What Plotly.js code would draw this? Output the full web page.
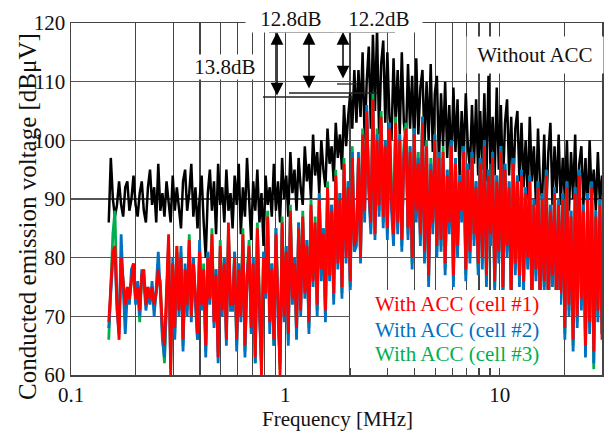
<!DOCTYPE html>
<html>
<head>
<meta charset="utf-8">
<script src="https://cdn.plot.ly/plotly-3.0.1.min.js"></script>
<style>html,body{margin:0;padding:0;background:#fff;}#chart{width:607px;height:432px;}</style>
</head>
<body>
<div id="chart"></div>
<script>
// Analyzer sweep settings (log-spaced sweep grid)
const sweepStartMHz = 0.15;
const sweepStopMHz = 30;
const sweepPoints = 240;

// Conducted emission levels [dBuV]
const withoutACC = [
  86, 97, 90, 87, 89, 93, 89, 87, 92, 93, 88, 90, 94, 89, 87, 91, 93, 88, 86, 92,
  95, 89, 92, 86, 96, 88, 91, 87, 93, 90, 86, 94, 88, 92, 89, 85, 93, 95, 88, 91,
  96, 87, 92, 85, 90, 94, 86, 80, 91, 95, 88, 93, 84, 96, 89, 92, 86, 95, 88, 91,
  85, 94, 89, 96, 84, 92, 87, 97, 90, 83, 93, 88, 95, 86, 91, 82, 94, 89, 92, 87,
  96, 88, 93, 86, 97, 90, 94, 87, 98, 91, 95, 88, 97, 92, 89, 99, 93, 96, 90, 101,
  94, 98, 91, 100, 95, 92, 102, 96, 99, 93, 103, 97, 101, 95, 106, 99, 104, 108, 102, 112,
  103, 112, 104, 115, 100, 110, 116, 102, 118, 105, 119, 101, 113, 117, 103, 115, 104, 100, 114, 103,
  112, 101, 115, 103, 100, 113, 102, 111, 99, 114, 101, 109, 112, 99, 110, 100, 113, 98, 108, 111,
  96, 108, 99, 110, 97, 106, 95, 109, 98, 107, 94, 105, 97, 108, 99, 95, 106, 96, 107, 94,
  105, 95, 108, 93, 111, 96, 104, 94, 109, 95, 106, 92, 103, 107, 94, 104, 92, 102, 105, 93,
  103, 92, 100, 90, 104, 93, 99, 89, 102, 92, 90, 101, 88, 98, 103, 89, 99, 91, 101, 89,
  97, 90, 100, 88, 98, 90, 101, 87, 96, 99, 89, 97, 87, 100, 90, 95, 88, 98, 89, 94
];
const withACCcell1 = [
  69, 75, 81, 82, 72, 66, 80, 76, 72, 75, 73, 76, 79, 73, 75, 71, 77, 78, 72, 75,
  73, 75, 72, 74, 78, 75, 68, 65, 74, 84, 60, 79, 68, 82, 71, 80, 66, 78, 72, 83,
  70, 79, 74, 67, 81, 72, 78, 65, 80, 73, 84, 69, 77, 63, 82, 71, 79, 66, 86, 72,
  72, 80, 66, 78, 70, 84, 65, 76, 82, 68, 79, 63, 85, 71, 60, 80, 74, 87, 69, 78,
  66, 84, 72, 60, 86, 70, 81, 67, 88, 73, 79, 68, 85, 71, 87, 74, 82, 69, 89, 76,
  86, 72, 90, 78, 84, 71, 92, 77, 88, 74, 94, 79, 90, 75, 96, 80, 92, 76, 97, 82,
  84, 97, 80, 101, 88, 105, 92, 86, 107, 84, 100, 89, 104, 87, 99, 85, 102, 90, 84, 103,
  86, 100, 83, 97, 102, 85, 98, 80, 101, 88, 96, 84, 103, 81, 99, 77, 95, 86, 100, 82,
  97, 83, 98, 79, 94, 86, 99, 77, 96, 82, 93, 88, 98, 78, 95, 81, 97, 84, 92, 79,
  96, 80, 99, 77, 94, 84, 97, 76, 93, 81, 98, 75, 95, 82, 92, 74, 96, 79, 93, 77,
  94, 76, 91, 80, 93, 73, 89, 78, 92, 72, 90, 76, 94, 71, 88, 77, 91, 70, 89, 74,
  90, 68, 92, 72, 87, 66, 91, 70, 94, 73, 88, 65, 90, 69, 92, 64, 87, 71, 89, 66
];
const withACCcell2 = [
  68, 74, 80, 81, 71, 67, 84, 75, 67, 74, 72, 78, 79, 72, 76, 70, 78, 76, 71, 74,
  72, 76, 70, 75, 81, 74, 66, 63, 73, 82, 62, 80, 66, 81, 70, 82, 64, 79, 70, 82,
  69, 80, 72, 66, 83, 71, 77, 63, 81, 72, 82, 68, 78, 62, 81, 70, 80, 65, 84, 71,
  71, 81, 64, 79, 69, 83, 63, 77, 81, 67, 80, 62, 84, 70, 62, 81, 73, 86, 67, 79,
  65, 85, 70, 62, 85, 69, 82, 65, 87, 72, 80, 66, 86, 70, 86, 73, 83, 67, 88, 75,
  85, 70, 91, 76, 85, 69, 91, 76, 89, 72, 93, 78, 91, 73, 95, 79, 93, 74, 98, 81,
  82, 98, 79, 100, 86, 106, 91, 84, 106, 83, 101, 87, 103, 85, 100, 83, 103, 88, 82, 102,
  84, 101, 81, 98, 101, 83, 99, 78, 102, 86, 97, 82, 104, 79, 98, 75, 96, 84, 101, 80,
  98, 81, 97, 77, 95, 84, 100, 75, 97, 80, 94, 86, 99, 76, 96, 79, 98, 82, 93, 77,
  97, 78, 100, 75, 95, 82, 98, 74, 94, 79, 99, 73, 96, 80, 93, 72, 97, 77, 94, 75,
  95, 74, 92, 78, 94, 71, 90, 76, 93, 70, 91, 74, 95, 69, 89, 75, 92, 68, 90, 72,
  91, 66, 93, 70, 88, 64, 92, 68, 95, 71, 89, 63, 91, 67, 93, 62, 88, 69, 90, 67
];
const withACCcell3 = [
  66, 76, 84, 88, 73, 68, 80, 76, 70, 75, 73, 76, 78, 73, 75, 69, 77, 77, 72, 75,
  73, 75, 71, 74, 77, 76, 67, 62, 74, 83, 61, 79, 67, 82, 71, 81, 65, 78, 71, 84,
  70, 80, 73, 66, 82, 72, 79, 64, 81, 73, 85, 70, 78, 64, 83, 72, 80, 67, 85, 73,
  73, 81, 65, 79, 71, 85, 64, 77, 83, 69, 80, 62, 86, 72, 61, 81, 75, 88, 70, 79,
  65, 85, 73, 61, 87, 71, 82, 66, 89, 74, 80, 67, 86, 72, 88, 75, 83, 68, 90, 77,
  87, 71, 91, 79, 85, 70, 93, 78, 89, 73, 95, 80, 91, 74, 97, 81, 93, 75, 99, 83,
  83, 97, 80, 102, 89, 105, 93, 85, 108, 84, 102, 88, 105, 86, 100, 84, 103, 91, 83, 104,
  85, 101, 82, 99, 103, 84, 99, 79, 102, 87, 98, 83, 104, 80, 100, 76, 97, 85, 101, 81,
  98, 82, 99, 78, 95, 85, 100, 76, 97, 81, 94, 87, 99, 77, 96, 80, 98, 83, 93, 78,
  97, 79, 100, 76, 95, 83, 98, 75, 94, 80, 99, 74, 96, 81, 93, 73, 97, 78, 94, 76,
  95, 75, 92, 79, 94, 72, 90, 77, 93, 71, 91, 75, 95, 70, 89, 76, 92, 69, 90, 73,
  91, 67, 93, 71, 88, 65, 92, 69, 95, 72, 89, 64, 91, 68, 93, 61, 88, 70, 90, 67
];

// Axis ticks
const xTickVals = [0.1,0.2,0.3,0.4,0.5,0.6,0.7,0.8,0.9,1,2,3,4,5,6,7,8,9,10,20,30];
const xTickText = ['0.1','','','','','','','','','1','','','','','','','','','10','',''];
const yTickVals = [60,70,80,90,100,110,120];

// Build sweep frequency grid
const freq = [];
for (let i = 0; i < sweepPoints; i++) {
  freq.push(sweepStartMHz * Math.pow(sweepStopMHz / sweepStartMHz, i / (sweepPoints - 1)));
}

const RED = '#ff0000', BLUE = '#0070c0', GREEN = '#00b050';
const FONT = "'Liberation Serif', 'Times New Roman', serif";

const traces = [
  {x: freq, y: withoutACC, mode: 'lines', line: {color: '#000000', width: 2.5}, name: 'Without ACC'},
  {x: freq, y: withACCcell3, mode: 'lines', line: {color: GREEN, width: 2.8}, name: 'With ACC (cell #3)'},
  {x: freq, y: withACCcell2, mode: 'lines', line: {color: BLUE, width: 2.8}, name: 'With ACC (cell #2)'},
  {x: freq, y: withACCcell1, mode: 'lines', line: {color: RED, width: 2.8}, name: 'With ACC (cell #1)'}
];

// pixel -> paper helpers for layout decorations
const L = 71, R = 602, T = 23, B = 375;
const px = v => (v - L) / (R - L);
const py = v => (B - v) / (B - T);

function hline(y, x0, x1) {
  return {type: 'line', xref: 'paper', yref: 'paper', x0: px(x0), x1: px(x1), y0: py(y), y1: py(y),
          line: {color: '#222', width: 1.3}, layer: 'above'};
}
function arrow(x, yTop, yBot) {
  return {xref: 'paper', yref: 'paper', x: px(x), y: py(yTop), ax: 0, ay: yBot - yTop,
          axref: 'pixel', ayref: 'pixel', showarrow: true, text: '', arrowside: 'end+start',
          arrowhead: 2, startarrowhead: 2, arrowsize: 1.7, startarrowsize: 1.7, arrowwidth: 1.5, arrowcolor: '#000'};
}
function label(text, cx, cy, color, opts) {
  return Object.assign({xref: 'paper', yref: 'paper', x: px(cx), y: py(cy), xanchor: 'center', yanchor: 'middle',
          text: text, showarrow: false, font: {family: FONT, size: 21, color: color}}, opts || {});
}

const layout = {
  width: 607, height: 432,
  margin: {l: L, r: 607 - R, t: T, b: 432 - B},
  paper_bgcolor: '#ffffff', plot_bgcolor: '#ffffff',
  font: {family: FONT, size: 21, color: '#111'},
  showlegend: false,
  xaxis: {
    type: 'log', range: [-1, Math.log10(30)],
    tickmode: 'array', tickvals: xTickVals, ticktext: xTickText,
    showgrid: true, gridcolor: '#444', gridwidth: 1.3,
    showline: true, mirror: true, linecolor: '#444', linewidth: 1.5,
    ticks: '', zeroline: false, tickfont: {family: FONT, size: 21, color: '#111'}
  },
  yaxis: {
    range: [60, 120], tickmode: 'array', tickvals: yTickVals,
    showgrid: true, gridcolor: '#555', gridwidth: 1.6,
    showline: true, mirror: true, linecolor: '#444', linewidth: 1.5,
    ticks: '', zeroline: false, tickfont: {family: FONT, size: 21, color: '#111'}
  },
  shapes: [
    hline(32, 269, 395),
    hline(97, 263, 353),
    hline(93, 289, 377),
    hline(84, 337, 357),
    {type: 'rect', xref: 'paper', yref: 'paper', x0: px(350), x1: px(560), y0: py(368), y1: py(290),
     fillcolor: '#ffffff', line: {width: 0}, layer: 'above'}
  ],
  annotations: [
    arrow(277, 32, 97),
    arrow(309, 32, 90),
    arrow(343, 32, 80),
    label('Without ACC', 535, 55, '#111', {bgcolor: '#ffffff', width: 134, height: 34}),
    label('13.8dB', 225, 67, '#111', {bgcolor: '#ffffff', width: 64, height: 22}),
    label('12.8dB', 291, 19, '#111', {bgcolor: '#ffffff', width: 88, height: 24}),
    label('12.2dB', 379, 19, '#111', {bgcolor: '#ffffff', width: 84, height: 24}),
    label('With ACC (cell #1)', 457, 304, RED),
    label('With ACC (cell #2)', 457, 330, BLUE),
    label('With ACC (cell #3)', 457, 354, GREEN),
    label('Frequency [MHz]', 337, 419, '#111'),
    label('Conducted emission voltage [dBμV]', 27, 217, '#111', {textangle: -90, font: {family: FONT, size: 25, color: '#111'}})
  ]
};

Plotly.newPlot('chart', traces, layout, {displayModeBar: false, staticPlot: true});
</script>
</body>
</html>
